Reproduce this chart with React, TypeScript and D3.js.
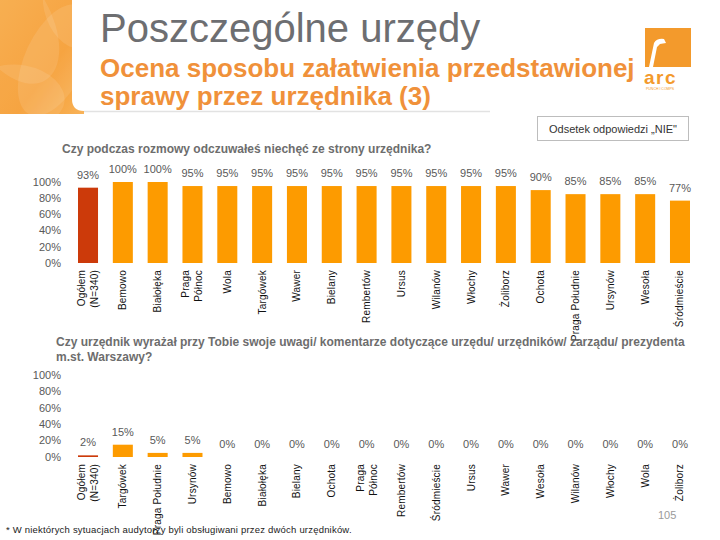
import React, { useRef, useEffect } from 'react';
import * as d3 from 'd3';

// Chart 1: "NIE" answers for irritation question
const cats1 = ['Ogółem|(N=340)', 'Bemowo', 'Białołęka', 'Praga|Północ', 'Wola', 'Targówek', 'Wawer', 'Bielany', 'Rembertów', 'Ursus', 'Wilanów', 'Włochy', 'Żoliborz', 'Ochota', 'Praga Południe', 'Ursynów', 'Wesoła', 'Śródmieście'];
const vals1 = [93, 100, 100, 95, 95, 95, 95, 95, 95, 95, 95, 95, 95, 90, 85, 85, 85, 77];

// Chart 2: comments about the office
const cats2 = ['Ogółem|(N=340)', 'Targówek', 'Praga Południe', 'Ursynów', 'Bemowo', 'Białołęka', 'Bielany', 'Ochota', 'Praga|Północ', 'Rembertów', 'Śródmieście', 'Ursus', 'Wawer', 'Wesoła', 'Wilanów', 'Włochy', 'Wola', 'Żoliborz'];
const vals2 = [2, 15, 5, 5, 0, 0, 0, 0, 0, 0, 0, 0, 0, 0, 0, 0, 0, 0];

const yTicks = [0, 20, 40, 60, 80, 100];

const FONT = '"Liberation Sans", Arial, sans-serif';

const App: React.FC = () => {
  const ref = useRef<SVGSVGElement | null>(null);

  useEffect(() => {
    if (!ref.current) return;
    const svg = d3.select(ref.current);
    svg.selectAll('*').remove();
    svg.attr('width', 720).attr('height', 540).style('font-family', FONT);

    svg.append('rect').attr('width', 720).attr('height', 540).attr('fill', '#fff');

    // ---- header ----
    const defs = svg.append('defs');
    const grad = defs.append('linearGradient').attr('id', 'hdr').attr('x1', 0).attr('y1', 0).attr('x2', 1).attr('y2', 1);
    grad.append('stop').attr('offset', '0%').attr('stop-color', '#f7a63e');
    grad.append('stop').attr('offset', '60%').attr('stop-color', '#f59a2c');
    grad.append('stop').attr('offset', '100%').attr('stop-color', '#f8b35a');
    defs.append('clipPath').attr('id', 'hdrClip').append('rect').attr('width', 84).attr('height', 114);

    const hdr = svg.append('g').attr('clip-path', 'url(#hdrClip)');
    hdr.append('rect').attr('width', 84).attr('height', 114).attr('fill', 'url(#hdr)');
    [[10, 20, 40, 70, -30], [55, 60, 30, 60, 25], [20, 95, 45, 30, 10], [70, 10, 25, 40, -20]].forEach(([cx, cy, rx, ry, a]) => {
      hdr.append('ellipse')
        .attr('cx', cx).attr('cy', cy).attr('rx', rx).attr('ry', ry)
        .attr('transform', `rotate(${a},${cx},${cy})`)
        .attr('fill', '#fff').attr('opacity', 0.1);
    });
    // white panel with rounded bottom-left corner
    svg.append('path')
      .attr('d', 'M72,0 H720 V111 H84 Q72,111 72,99 Z')
      .attr('fill', '#fff');
    svg.append('line')
      .attr('x1', 84).attr('x2', 490).attr('y1', 111.5).attr('y2', 111.5)
      .attr('stroke', '#e2e2e2').attr('stroke-width', 1.5);

    svg.append('text')
      .attr('x', 100).attr('y', 42)
      .attr('font-size', 40).attr('fill', '#6d6e71')
      .text('Poszczególne urzędy');
    svg.append('text')
      .attr('x', 100).attr('y', 77)
      .attr('font-size', 26).attr('font-weight', 'bold').attr('fill', '#f0913a')
      .text('Ocena sposobu załatwienia przedstawionej');
    svg.append('text')
      .attr('x', 100).attr('y', 105)
      .attr('font-size', 26).attr('font-weight', 'bold').attr('fill', '#f0913a')
      .text('sprawy przez urzędnika (3)');

    // logo
    const logo = svg.append('g');
    logo.append('rect').attr('x', 645).attr('y', 28).attr('width', 46).attr('height', 39).attr('fill', '#f39a2c');
    logo.append('path')
      .attr('d', 'M649,67 L654,43 Q657,38 664,39 L666,43 L660,44 L657,47 L653,67 Z')
      .attr('fill', '#fff');
    logo.append('text')
      .attr('x', 644).attr('y', 84).attr('font-size', 19).attr('font-weight', 'bold')
      .attr('fill', '#f39a2c').attr('letter-spacing', 1.5)
      .text('arc');
    logo.append('text')
      .attr('x', 646).attr('y', 90).attr('font-size', 3.5).attr('fill', '#f39a2c')
      .text('PUNCH I COMPS');

    // "Odsetek" box
    svg.append('rect')
      .attr('x', 537.5).attr('y', 116.5).attr('width', 151).attr('height', 24)
      .attr('fill', '#fff').attr('stroke', '#bdbdbd');
    svg.append('text')
      .attr('x', 613).attr('y', 133).attr('text-anchor', 'middle')
      .attr('font-size', 11).attr('fill', '#333')
      .text('Odsetek odpowiedzi „NIE"');

    // ---- shared x scale ----
    const x = d3.scaleBand<number>()
      .domain(d3.range(18))
      .range([70.6, 697.4])
      .paddingInner(0.425)
      .paddingOuter(0.2125);

    const drawChart = (cats: string[], vals: number[], y0: number, y100: number, labelTop: number) => {
      const y = d3.scaleLinear().domain([0, 100]).range([y0, y100]);
      const g = svg.append('g');

      // y axis labels
      g.selectAll('text.ytick')
        .data(yTicks)
        .join('text')
        .attr('class', 'ytick')
        .attr('x', 61).attr('y', d => y(d)).attr('dy', '0.35em')
        .attr('text-anchor', 'end').attr('font-size', 11).attr('fill', '#595959')
        .text(d => `${d}%`);

      // bars
      g.selectAll('rect.bar')
        .data(vals)
        .join('rect')
        .attr('class', 'bar')
        .attr('x', (_, i) => x(i) as number)
        .attr('width', x.bandwidth())
        .attr('y', d => y(d))
        .attr('height', d => y0 - y(d))
        .attr('fill', (_, i) => (i === 0 ? '#cc3a0a' : '#fd9b00'));

      // value labels
      g.selectAll('text.val')
        .data(vals)
        .join('text')
        .attr('class', 'val')
        .attr('x', (_, i) => (x(i) as number) + x.bandwidth() / 2)
        .attr('y', d => y(d) - 9)
        .attr('text-anchor', 'middle').attr('font-size', 11).attr('fill', '#595959')
        .text(d => `${d}%`);

      // category labels (rotated)
      cats.forEach((c, i) => {
        const lines = c.split('|');
        const cx = (x(i) as number) + x.bandwidth() / 2;
        lines.forEach((ln, j) => {
          const lx = cx + (j - (lines.length - 1) / 2) * 13;
          g.append('text')
            .attr('transform', `translate(${lx},${labelTop}) rotate(-90)`)
            .attr('dy', '0.35em')
            .attr('text-anchor', 'end')
            .attr('font-size', 10).attr('letter-spacing', 0.2).attr('fill', '#111')
            .text(ln);
        });
      });
    };

    svg.append('text')
      .attr('x', 62).attr('y', 153)
      .attr('font-size', 12).attr('font-weight', 'bold').attr('fill', '#6d6d6d')
      .text('Czy podczas rozmowy odczuwałeś niechęć ze strony urzędnika?');
    drawChart(cats1, vals1, 263, 182, 270);

    svg.append('text')
      .attr('x', 56).attr('y', 346)
      .attr('font-size', 12).attr('font-weight', 'bold').attr('fill', '#6d6d6d')
      .text('Czy urzędnik wyrażał przy Tobie swoje uwagi/ komentarze dotyczące urzędu/ urzędników/ zarządu/ prezydenta');
    svg.append('text')
      .attr('x', 56).attr('y', 361)
      .attr('font-size', 12).attr('font-weight', 'bold').attr('fill', '#6d6d6d')
      .text('m.st. Warszawy?');
    drawChart(cats2, vals2, 457, 375, 464);

    // footnote and page number
    svg.append('text')
      .attr('x', 6).attr('y', 533)
      .attr('font-size', 9.5).attr('letter-spacing', 0.2).attr('fill', '#222')
      .text('* W niektórych sytuacjach audytorzy byli obsługiwani przez dwóch urzędników.');
    svg.append('text')
      .attr('x', 658).attr('y', 519)
      .attr('font-size', 11).attr('fill', '#9a9a9a')
      .text('105');
  }, []);

  return <svg ref={ref} style={{ position: 'absolute', left: 0, top: 0, display: 'block' }} />;
};

export default App;
